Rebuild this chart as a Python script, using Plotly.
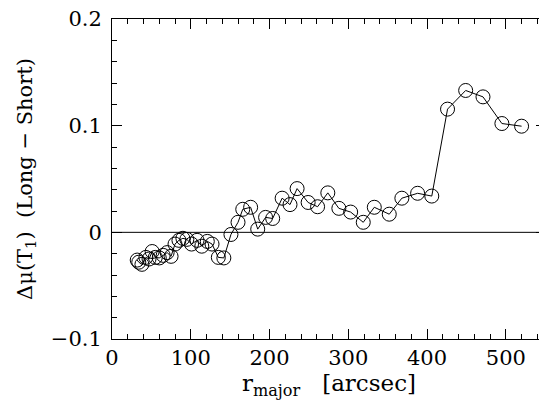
import plotly.graph_objects as go

r_major = [32, 34, 38, 43, 47, 51, 55, 60, 65, 70, 75, 80, 85, 90, 95, 101, 108, 114,
           121, 127, 135, 142, 151, 160, 166, 176, 185, 195, 204, 216, 226, 235, 249,
           261, 274, 288, 303, 319, 333, 352, 368, 388, 406, 426, 449, 471, 495, 520]
delta_mu = [-0.026, -0.028, -0.030, -0.0235, -0.025, -0.018, -0.0235, -0.024, -0.0216,
            -0.019, -0.0225, -0.011, -0.0075, -0.0056, -0.0066, -0.011, -0.0075, -0.013,
            -0.0085, -0.011, -0.0235, -0.024, -0.002, 0.0094, 0.0216, 0.0235, 0.003,
            0.014, 0.013, 0.032, 0.026, 0.041, 0.028, 0.024, 0.037, 0.0225, 0.019,
            0.0094, 0.0235, 0.017, 0.032, 0.0366, 0.034, 0.1155, 0.133, 0.127, 0.102,
            0.0995]

FONT = "DejaVu Serif"

fig = go.Figure()
fig.add_hline(y=0, line=dict(color="black", width=1))
fig.add_trace(go.Scatter(
    x=r_major, y=delta_mu, mode="lines+markers",
    line=dict(color="black", width=1),
    marker=dict(symbol="circle-open", size=14, color="black", line=dict(width=1)),
    showlegend=False,
))

axis_common = dict(
    showgrid=False, zeroline=False, showline=True, linecolor="black", linewidth=1,
    mirror="ticks", ticks="inside", ticklen=10, tickwidth=1, tickcolor="black",
    tickfont=dict(family=FONT, size=21, color="black"), automargin=False,
    ticklabeloverflow="allow",
)
fig.update_xaxes(
    range=[0, 551], tick0=0, dtick=100,
    minor=dict(ticks="inside", ticklen=5, dtick=20, tickcolor="black"),
    title=dict(text="r<sub>major</sub>   [arcsec]", font=dict(family=FONT, size=23, color="black"),
               standoff=2),
    ticklabelstandoff=0,
    **axis_common,
)
fig.update_yaxes(
    range=[-0.1, 0.2], tick0=0, dtick=0.1, tickvals=[-0.1, 0, 0.1, 0.2],
    ticktext=["\u22120.1", "0", "0.1", "0.2"],
    minor=dict(ticks="inside", ticklen=5, dtick=0.02, tickcolor="black"),
    title=dict(text="\u0394\u03bc(T<sub>1</sub>)  (Long \u2212 Short)",
               font=dict(family=FONT, size=21, color="black"), standoff=12),
    ticklabelstandoff=5,
    **axis_common,
)
# page body has an 8px default margin, so the figure is sized/offset to compensate
fig.update_layout(
    width=539, height=397,
    margin=dict(l=104, r=1, t=11, b=66),
    plot_bgcolor="white", paper_bgcolor="white",
)
fig.write_html("out.html")
